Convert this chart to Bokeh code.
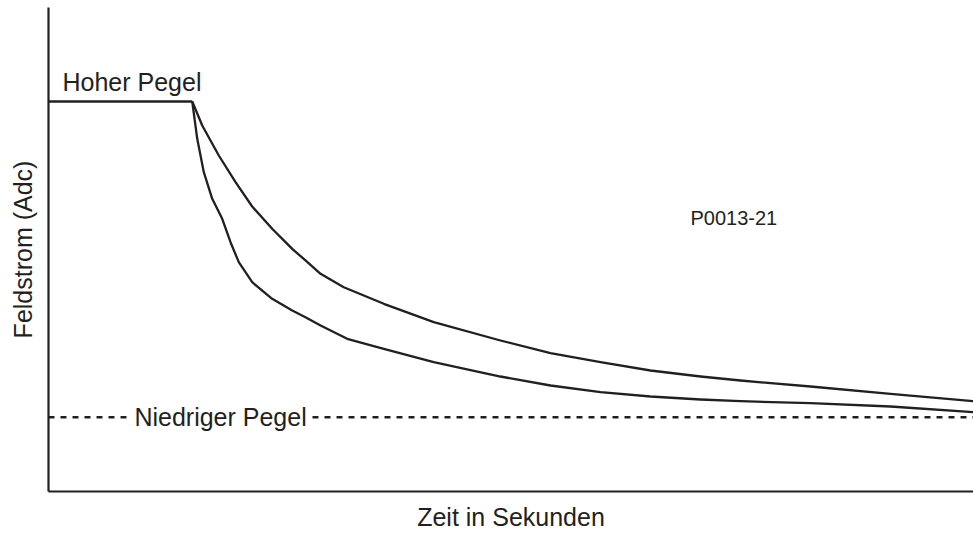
from bokeh.plotting import figure
from bokeh.models import Range1d, Label, FixedTicker
from bokeh.embed import file_html
from bokeh.resources import INLINE

# Data (time in arbitrary seconds 0..100, field current in arbitrary % 0..100)
HIGH_LEVEL = 80.58
LOW_LEVEL = 15.35

high_t = [0.0, 15.54]
high_i = [80.58, 80.58]

upper_t = [15.54, 16.62, 18.41, 20.22, 22.02, 24.18, 26.35, 27.78, 29.41, 31.92,
           36.25, 41.65, 48.86, 54.27, 59.68, 65.08, 70.49, 74.81, 82.38, 91.03, 100.0]
upper_i = [80.58, 75.62, 69.42, 63.91, 58.88, 54.28, 50.14, 47.73, 44.98, 42.21,
           38.78, 34.98, 31.20, 28.57, 26.71, 25.00, 23.76, 22.93, 21.69, 20.19, 18.66]

lower_t = [15.54, 16.08, 16.79, 17.70, 18.78, 19.68, 20.57, 22.02, 24.18, 26.35,
           27.78, 29.41, 32.29, 36.25, 41.65, 48.86, 54.27, 59.68, 65.08, 70.49,
           74.81, 82.38, 91.03, 100.0]
lower_i = [80.58, 72.87, 65.97, 60.47, 56.34, 51.51, 47.38, 43.24, 39.81, 37.40,
           36.01, 34.30, 31.55, 29.48, 26.71, 23.76, 21.90, 20.52, 19.63, 19.01,
           18.66, 18.24, 17.56, 16.38]

low_t = [0.0, 100.0]
low_i = [LOW_LEVEL, LOW_LEVEL]

INK = "#231f20"
FONT = "Liberation Sans"

p = figure(width=973, height=533, output_backend="svg", toolbar_location=None,
           x_range=Range1d(0, 100), y_range=Range1d(0, 100),
           min_border_left=48, min_border_right=0, min_border_top=7, min_border_bottom=42)
p.outline_line_color = None
p.grid.visible = False
p.background_fill_color = "white"
p.border_fill_color = "white"

for ax in (p.xaxis[0], p.yaxis[0]):
    ax.ticker = FixedTicker(ticks=[])
    ax.major_tick_line_color = None
    ax.minor_tick_line_color = None
    ax.major_label_text_font_size = "0px"
    ax.axis_line_color = INK
    ax.axis_line_width = 2.2
    ax.axis_label_text_font = FONT
    ax.axis_label_text_font_size = "25px"
    ax.axis_label_text_font_style = "normal"
    ax.axis_label_text_color = INK

p.xaxis.axis_label = "Zeit in Sekunden"
p.yaxis.axis_label = "Feldstrom (Adc)"
p.xaxis.axis_label_standoff = 11
p.yaxis.axis_label_standoff = 12

p.line(high_t, high_i, line_color=INK, line_width=2.3)
p.line(upper_t, upper_i, line_color=INK, line_width=2.3, line_join="round")
p.line(lower_t, lower_i, line_color=INK, line_width=2.3, line_join="round")
p.line(low_t, low_i, line_color=INK, line_width=2.5, line_dash="6 6")

p.add_layout(Label(x=0, y=HIGH_LEVEL, x_offset=14, y_offset=19, text="Hoher Pegel",
                   text_font=FONT, text_font_size="25px", text_color=INK,
                   text_baseline="alphabetic"))
p.add_layout(Label(x=18.6, y=LOW_LEVEL, text="Niedriger Pegel",
                   text_font=FONT, text_font_size="25px", text_color=INK,
                   text_align="center", text_baseline="middle",
                   background_fill_color="white", border_line_color=None,
                   padding=3))
p.add_layout(Label(x=69.4, y=56.5, text="P0013-21",
                   text_font=FONT, text_font_size="20px", text_color=INK,
                   text_baseline="alphabetic"))

open("out.html", "w").write(file_html(p, INLINE))
